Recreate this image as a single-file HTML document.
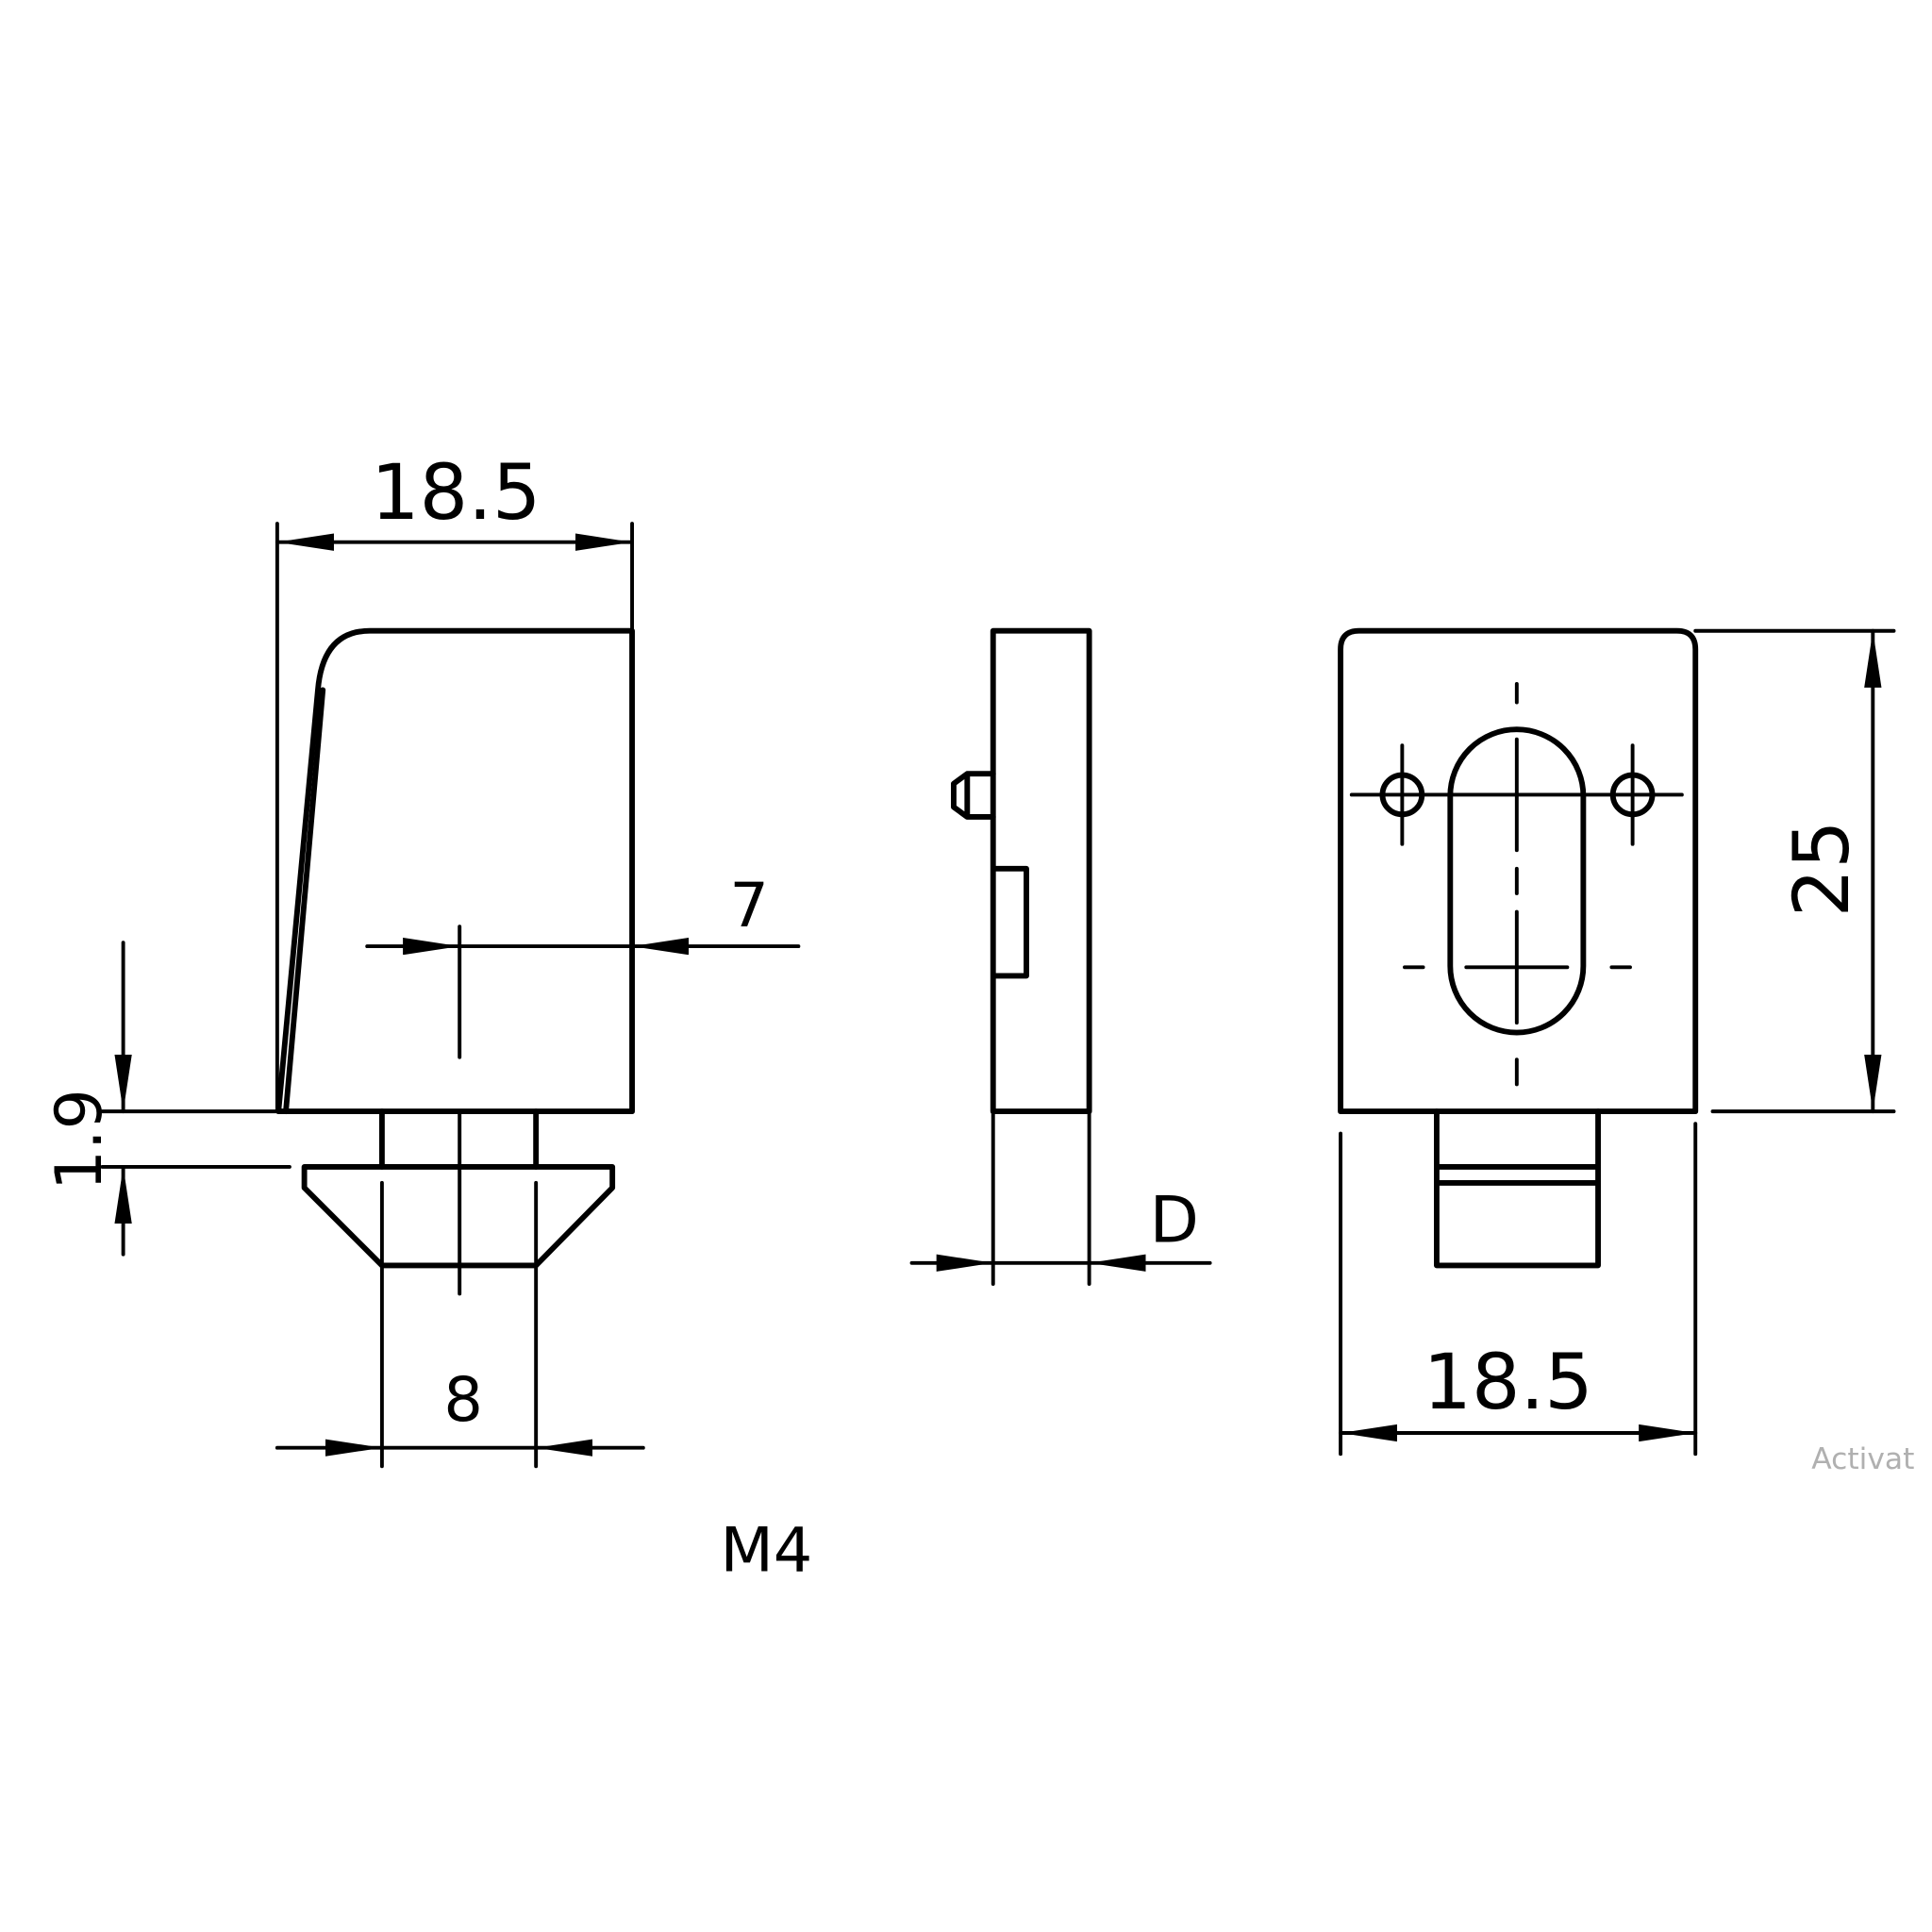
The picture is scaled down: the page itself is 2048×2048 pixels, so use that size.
<!DOCTYPE html>
<html><head><style>html,body{margin:0;padding:0;background:#fff}svg{display:block}</style></head>
<body>
<svg width="2048" height="2048" viewBox="0 0 1568 1568" xmlns="http://www.w3.org/2000/svg">
<defs>
<marker id="a" viewBox="0 0 46 14" refX="46" refY="7" markerWidth="46" markerHeight="14" markerUnits="userSpaceOnUse" orient="auto-start-reverse">
<path d="M0,0 L46,7 L0,14 Z" fill="#000"/>
</marker>
</defs>
<g fill="none" stroke="#000" stroke-linecap="round" stroke-linejoin="round">
<!-- LEFT VIEW -->
<g stroke-width="4.5">
<path d="M226,902 L258,560 Q262,512 300,512 L513,512 L513,902 Z"/>
<path d="M232,902 L262,560"/>
<path d="M310,902 V947 M435,902 V947"/>
<path d="M247,947 H497 V964 L435,1027 H310 L247,964 Z"/>
</g>
<g stroke-width="3">
<path d="M225,425 V902 M513,425 V512"/>
<line x1="225" y1="440" x2="513" y2="440" marker-start="url(#a)" marker-end="url(#a)"/>
<path d="M373,752 V858 M373,902 V1050"/>
<line x1="298" y1="768" x2="373" y2="768" marker-end="url(#a)"/>
<line x1="373" y1="768" x2="513" y2="768"/>
<line x1="648" y1="768" x2="513" y2="768" marker-end="url(#a)"/>
<path d="M83,902 H226 M83,947 H235"/>
<line x1="100" y1="765" x2="100" y2="902" marker-end="url(#a)"/>
<line x1="100" y1="1018" x2="100" y2="947" marker-end="url(#a)"/>
<path d="M310,960 V1190 M435,960 V1190"/>
<line x1="225" y1="1175" x2="310" y2="1175" marker-end="url(#a)"/>
<line x1="310" y1="1175" x2="435" y2="1175"/>
<line x1="522" y1="1175" x2="435" y2="1175" marker-end="url(#a)"/>
</g>
<!-- MIDDLE VIEW -->
<g stroke-width="4.5">
<rect x="806" y="512" width="78" height="390"/>
<path d="M808,705 H833 V792 H808"/>
<path d="M806,628 H785 L774,636 V655 L785,663 H806 M785,628 V663"/>
</g>
<g stroke-width="3">
<path d="M806,902 V1042 M884,902 V1042"/>
<line x1="740" y1="1025" x2="806" y2="1025" marker-end="url(#a)"/>
<line x1="806" y1="1025" x2="884" y2="1025"/>
<line x1="982" y1="1025" x2="884" y2="1025" marker-end="url(#a)"/>
</g>
<!-- RIGHT VIEW -->
<g stroke-width="4.5">
<path d="M1088,902 V527 Q1088,512 1103,512 H1361 Q1376,512 1376,527 V902 Z"/>
<path d="M1166,902 V1027 H1297 V902 M1166,947 H1297 M1166,960 H1297"/>
<rect x="1177" y="592" width="108" height="246" rx="54"/>
<circle cx="1138" cy="645" r="16"/>
<circle cx="1325" cy="645" r="16"/>
</g>
<g stroke-width="3">
<path d="M1097,645 H1365 M1138,605 V685 M1325,605 V685"/>
<path d="M1231,555 V570 M1231,600 V690 M1231,705 V725 M1231,740 V830 M1231,860 V880"/>
<path d="M1140,785 H1155 M1190,785 H1272 M1308,785 H1323"/>
<path d="M1376,512 H1537 M1390,902 H1537"/>
<line x1="1520" y1="512" x2="1520" y2="902" marker-start="url(#a)" marker-end="url(#a)"/>
<path d="M1088,920 V1180 M1376,912 V1180"/>
<line x1="1088" y1="1163" x2="1376" y2="1163" marker-start="url(#a)" marker-end="url(#a)"/>
</g>
</g>
<g font-family="'DejaVu Sans','Liberation Sans',sans-serif" fill="#000">
<text x="370" y="421" font-size="62" text-anchor="middle">18.5</text>
<text x="608" y="752" font-size="50" text-anchor="middle">7</text>
<text transform="translate(82,925) rotate(-90)" font-size="52" text-anchor="middle">1.9</text>
<text x="376" y="1153" font-size="50" text-anchor="middle">8</text>
<text x="622" y="1275" font-size="50" text-anchor="middle">M4</text>
<text x="953" y="1008" font-size="52" text-anchor="middle">D</text>
<text transform="translate(1500,705) rotate(-90)" font-size="62" text-anchor="middle">25</text>
<text x="1224" y="1143" font-size="62" text-anchor="middle">18.5</text>
<text x="1512" y="1192" font-size="24" text-anchor="middle" fill="#b0b0b0">Activat</text>
</g>
</svg>
</body></html>
